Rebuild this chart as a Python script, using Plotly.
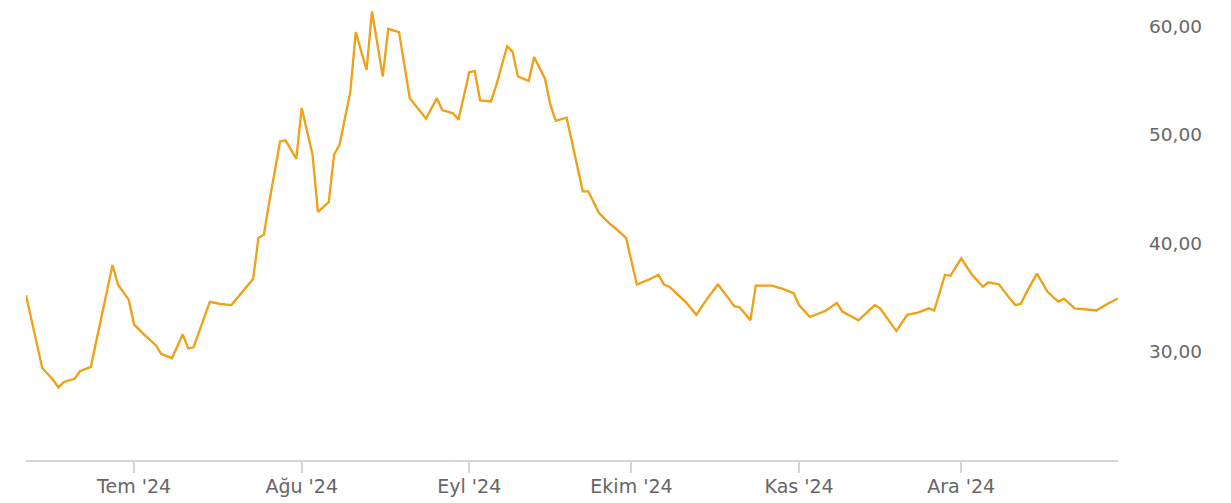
import plotly.graph_objects as go

dates = [
    "2024-06-11", "2024-06-14", "2024-06-16", "2024-06-17", "2024-06-18", "2024-06-20",
    "2024-06-21", "2024-06-23", "2024-06-27", "2024-06-28", "2024-06-30", "2024-07-01",
    "2024-07-03", "2024-07-05", "2024-07-06", "2024-07-08", "2024-07-10", "2024-07-11",
    "2024-07-12", "2024-07-14", "2024-07-15", "2024-07-17", "2024-07-19", "2024-07-21",
    "2024-07-23", "2024-07-24", "2024-07-25", "2024-07-26", "2024-07-28", "2024-07-29",
    "2024-07-31", "2024-08-01", "2024-08-03", "2024-08-04", "2024-08-06", "2024-08-07",
    "2024-08-08", "2024-08-10", "2024-08-11", "2024-08-13", "2024-08-14", "2024-08-16",
    "2024-08-17", "2024-08-19", "2024-08-21", "2024-08-24", "2024-08-26", "2024-08-27",
    "2024-08-29", "2024-08-30", "2024-09-01", "2024-09-02", "2024-09-03", "2024-09-05",
    "2024-09-06", "2024-09-08", "2024-09-09", "2024-09-10", "2024-09-12", "2024-09-13",
    "2024-09-15", "2024-09-16", "2024-09-17", "2024-09-19", "2024-09-20", "2024-09-22",
    "2024-09-23", "2024-09-25", "2024-09-27", "2024-09-28", "2024-09-30", "2024-10-02",
    "2024-10-04", "2024-10-06", "2024-10-07", "2024-10-08", "2024-10-11", "2024-10-13",
    "2024-10-15", "2024-10-17", "2024-10-19", "2024-10-20", "2024-10-21", "2024-10-23",
    "2024-10-24", "2024-10-27", "2024-10-29", "2024-10-31", "2024-11-01", "2024-11-03",
    "2024-11-06", "2024-11-08", "2024-11-09", "2024-11-12", "2024-11-15", "2024-11-16",
    "2024-11-19", "2024-11-21", "2024-11-23", "2024-11-25", "2024-11-26", "2024-11-28",
    "2024-11-29", "2024-12-01", "2024-12-03", "2024-12-05", "2024-12-06", "2024-12-08",
    "2024-12-10", "2024-12-11", "2024-12-12", "2024-12-13", "2024-12-15", "2024-12-17",
    "2024-12-19", "2024-12-20", "2024-12-22", "2024-12-26", "2024-12-28", "2024-12-30",
]

values = [
    35.2, 28.5, 27.4, 26.7, 27.2, 27.5,
    28.2, 28.6, 38.0, 36.2, 34.8, 32.5,
    31.5, 30.6, 29.8, 29.4, 31.6, 30.3,
    30.4, 33.1, 34.6, 34.4, 34.3, 35.5,
    36.7, 40.5, 40.8, 43.8, 49.4, 49.5,
    47.8, 52.5, 48.2, 42.9, 43.8, 48.2,
    49.1, 54.0, 59.5, 56.0, 61.4, 55.4,
    59.8, 59.5, 53.4, 51.5, 53.4, 52.3,
    52.0, 51.4, 55.8, 55.9, 53.2, 53.1,
    54.6, 58.2, 57.7, 55.4, 55.0, 57.2,
    55.2, 52.8, 51.3, 51.6, 49.4, 44.8,
    44.8, 42.8, 41.8, 41.4, 40.5, 36.2,
    36.6, 37.1, 36.2, 36.0, 34.6, 33.4,
    34.9, 36.2, 34.9, 34.2, 34.1, 32.9,
    36.1, 36.1, 35.8, 35.4, 34.3, 33.2,
    33.8, 34.5, 33.7, 32.9, 34.3, 34.0,
    31.9, 33.4, 33.6, 34.0, 33.8, 37.1,
    37.0, 38.6, 37.1, 36.0, 36.4, 36.2,
    34.9, 34.3, 34.4, 35.4, 37.2, 35.5,
    34.6, 34.9, 34.0, 33.8, 34.4, 34.9,
]

month_ticks = ["2024-07-01", "2024-08-01", "2024-09-01", "2024-10-01", "2024-11-01", "2024-12-01"]
month_labels = ["Tem '24", "Ağu '24", "Eyl '24", "Ekim '24", "Kas '24", "Ara '24"]
y_ticks = [30, 40, 50, 60]

fig = go.Figure()
fig.add_trace(go.Scatter(
    x=dates, y=values, mode="lines",
    line=dict(color="#f7980f", width=2.3),
    hoverinfo="skip", showlegend=False,
))
fig.add_trace(go.Scatter(
    x=dates, y=values, mode="lines",
    line=dict(color="#c2d22c", width=1),
    opacity=0.35,
    hoverinfo="skip", showlegend=False,
))

fig.update_layout(
    width=1231, height=503,
    margin=dict(l=26, r=113, t=0, b=43, autoexpand=False),
    paper_bgcolor="white", plot_bgcolor="white",
    separators=",.",
    font=dict(family="DejaVu Sans", size=18, color="#666666"),
    xaxis=dict(
        type="date",
        range=["2024-06-11", "2024-12-30"],
        tickvals=month_ticks, ticktext=month_labels,
        showgrid=False, zeroline=False,
        showline=True, linecolor="#d6d6d6", linewidth=1.5,
        ticks="outside", ticklen=11, tickcolor="#d6d6d6", tickwidth=1.5,
        ticklabelstandoff=-3,
        tickfont=dict(size=19, color="#666666"),
    ),
    yaxis=dict(
        side="right",
        range=[20, 62.46],
        tickvals=y_ticks, tickformat=".2f",
        showgrid=False, zeroline=False, showline=False,
        ticks="", ticklabelstandoff=30,
        tickfont=dict(size=18.5, color="#666666"),
    ),
)

fig.write_html("out.html", config={"displayModeBar": False})

with open("out.html", "r", encoding="utf-8") as f:
    html = f.read()
html = html.replace("<body>", '<body style="margin:0;padding:0;">', 1)
with open("out.html", "w", encoding="utf-8") as f:
    f.write(html)
